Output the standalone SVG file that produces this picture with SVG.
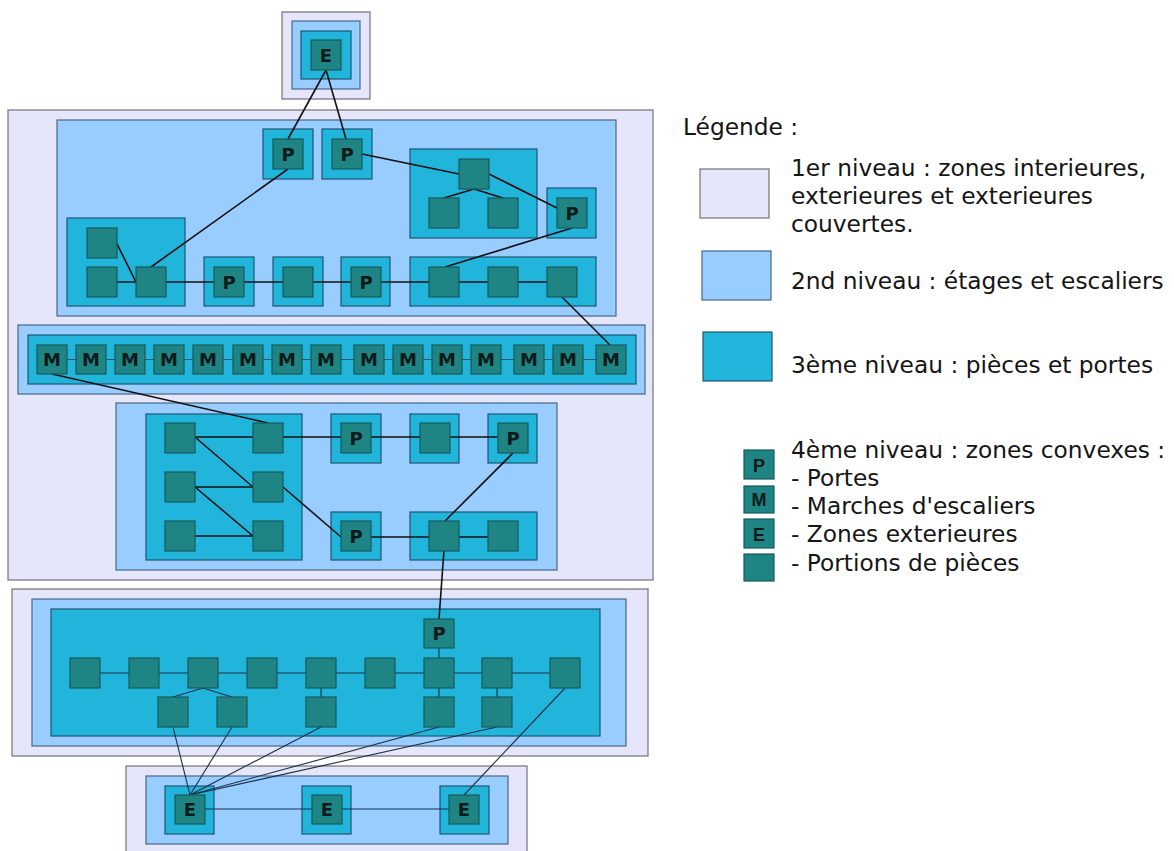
<svg xmlns="http://www.w3.org/2000/svg" width="1174" height="851" viewBox="0 0 1174 851">
<style>
.l1{fill:#e6e6fa;stroke:#7c7c84;stroke-width:1.3}
.l2{fill:#99ccff;stroke:#46688a;stroke-width:1.2}
.l3{fill:#22b5dc;stroke:#1e5670;stroke-width:1.2}
.n{fill:#1f8484;stroke:#145a5c;stroke-width:1.2}
.lab{font-family:"DejaVu Sans",sans-serif;font-weight:bold;font-size:18px;fill:#0c1a1a;text-anchor:middle}
.lgl{font-family:"Liberation Sans",Arial,sans-serif;font-weight:bold;font-size:18px;fill:#0c1a1a;text-anchor:middle}
.lg{font-family:"DejaVu Sans",sans-serif;font-size:23.3px;fill:#151515}
.c{stroke:#111;stroke-width:1.6;fill:none}
.ct{stroke:#1b2f45;stroke-width:1.1;fill:none}
.cs{stroke:#1e5670;stroke-width:1;fill:none}
</style>
<rect width="1174" height="851" fill="#fff"/>
<g id="containers">
<g id="ext-top"><rect class="l1" x="282" y="12" width="88" height="87"/><rect class="l2" x="292" y="21" width="68" height="68"/><rect class="l3" x="301" y="31" width="50" height="48"/></g>
<g id="building-main"><rect class="l1" x="8" y="110" width="645" height="470"/></g>
<g id="floor-upper"><rect class="l2" x="57" y="120" width="559" height="196"/>
<rect class="l3" x="263" y="129" width="50" height="50"/>
<rect class="l3" x="322" y="129" width="50" height="50"/>
<rect class="l3" x="410" y="149" width="127" height="89"/>
<rect class="l3" x="547" y="188" width="49" height="50"/>
<rect class="l3" x="67" y="218" width="118" height="88"/>
<rect class="l3" x="204" y="257" width="50" height="49"/>
<rect class="l3" x="273" y="257" width="50" height="49"/>
<rect class="l3" x="341" y="257" width="49" height="49"/>
<rect class="l3" x="410" y="257" width="186" height="49"/></g>
<g id="stairs"><rect class="l2" x="18" y="325" width="627" height="69"/><rect class="l3" x="28" y="335" width="608" height="49"/></g>
<g id="floor-middle"><rect class="l2" x="116" y="403" width="441" height="167"/>
<rect class="l3" x="146" y="414" width="156" height="146"/>
<rect class="l3" x="331" y="414" width="50" height="49"/>
<rect class="l3" x="410" y="414" width="49" height="49"/>
<rect class="l3" x="488" y="414" width="49" height="49"/>
<rect class="l3" x="331" y="512" width="50" height="48"/>
<rect class="l3" x="410" y="512" width="127" height="48"/></g>
<g id="building-ground"><rect class="l1" x="12" y="589" width="636" height="167"/><rect class="l2" x="32" y="599" width="594" height="147"/><rect class="l3" x="51" y="609" width="549" height="127"/></g>
<g id="ext-bottom"><rect class="l1" x="126" y="766" width="401" height="90"/><rect class="l2" x="146" y="776" width="362" height="68"/>
<rect class="l3" x="165" y="786" width="49" height="48"/>
<rect class="l3" x="302" y="786" width="49" height="48"/>
<rect class="l3" x="440" y="786" width="49" height="48"/></g>
</g>
<g id="connectors">
<line class="c" x1="326" y1="70" x2="288" y2="139"/>
<line class="c" x1="326" y1="70" x2="346" y2="139"/>
<line class="c" x1="288" y1="169" x2="151" y2="267"/>
<line class="c" x1="362" y1="154" x2="459" y2="174"/>
<line class="c" x1="489" y1="174" x2="559" y2="209"/>
<line class="c" x1="474" y1="189" x2="444" y2="198"/>
<line class="c" x1="474" y1="189" x2="503" y2="198"/>
<line class="c" x1="572" y1="228" x2="445" y2="267"/>
<line class="c" x1="116" y1="242" x2="136" y2="282"/>
<line class="c" x1="117" y1="282" x2="547" y2="282"/>
<line class="c" x1="562" y1="297" x2="610" y2="345"/>
<line class="cs" x1="52" y1="359.5" x2="611" y2="359.5"/>
<line class="c" x1="52" y1="374" x2="268" y2="423"/>
<line class="c" x1="195" y1="437" x2="498" y2="437"/>
<line class="c" x1="195" y1="437" x2="253" y2="487"/>
<line class="c" x1="195" y1="487" x2="253" y2="487"/>
<line class="c" x1="195" y1="487" x2="253" y2="536"/>
<line class="c" x1="195" y1="536" x2="253" y2="536"/>
<line class="c" x1="283" y1="487" x2="341" y2="537"/>
<line class="c" x1="371" y1="537" x2="488" y2="537"/>
<line class="c" x1="513" y1="453" x2="445" y2="521"/>
<line class="c" x1="444" y1="550" x2="439" y2="619"/>
<line class="ct" x1="439" y1="648" x2="439" y2="658"/>
<line class="ct" x1="100" y1="673" x2="550" y2="673"/>
<line class="ct" x1="203" y1="688" x2="173" y2="697"/>
<line class="ct" x1="203" y1="688" x2="232" y2="697"/>
<line class="ct" x1="321" y1="688" x2="321" y2="697"/>
<line class="ct" x1="439" y1="688" x2="439" y2="697"/>
<line class="ct" x1="497" y1="688" x2="497" y2="697"/>
<line class="ct" x1="173" y1="727" x2="190" y2="795"/>
<line class="ct" x1="232" y1="727" x2="190" y2="795"/>
<line class="ct" x1="321" y1="727" x2="190" y2="795"/>
<line class="ct" x1="439" y1="727" x2="190" y2="795"/>
<line class="ct" x1="497" y1="727" x2="190" y2="795"/>
<line class="ct" x1="565" y1="688" x2="464" y2="795"/>
<line class="ct" x1="205" y1="809" x2="449" y2="809"/>
</g>
<g id="n-e-top"><rect class="n" x="311" y="40" width="30" height="30"/><text class="lab" x="326" y="61.5">E</text></g>
<g id="n-up-p1"><rect class="n" x="273" y="139" width="30" height="30"/><text class="lab" x="288" y="160.5">P</text></g>
<g id="n-up-p2"><rect class="n" x="332" y="139" width="30" height="30"/><text class="lab" x="347" y="160.5">P</text></g>
<g id="n-up-r1a"><rect class="n" x="459" y="159" width="30" height="30"/></g>
<g id="n-up-r1b"><rect class="n" x="429" y="198" width="30" height="30"/></g>
<g id="n-up-r1c"><rect class="n" x="488" y="198" width="30" height="30"/></g>
<g id="n-up-p3"><rect class="n" x="557" y="198" width="30" height="30"/><text class="lab" x="572" y="219.5">P</text></g>
<g id="n-up-r2a"><rect class="n" x="87" y="228" width="30" height="30"/></g>
<g id="n-up-r2b"><rect class="n" x="87" y="267" width="30" height="30"/></g>
<g id="n-up-r2c"><rect class="n" x="136" y="267" width="30" height="30"/></g>
<g id="n-up-p4"><rect class="n" x="214" y="267" width="30" height="30"/><text class="lab" x="229" y="288.5">P</text></g>
<g id="n-up-c1"><rect class="n" x="283" y="267" width="30" height="30"/></g>
<g id="n-up-p5"><rect class="n" x="351" y="267" width="30" height="30"/><text class="lab" x="366" y="288.5">P</text></g>
<g id="n-up-r3a"><rect class="n" x="429" y="267" width="30" height="30"/></g>
<g id="n-up-r3b"><rect class="n" x="488" y="267" width="30" height="30"/></g>
<g id="n-up-r3c"><rect class="n" x="547" y="267" width="30" height="30"/></g>
<g id="n-m1"><rect class="n" x="37" y="345" width="30" height="29"/><text class="lab" x="52" y="366">M</text></g>
<g id="n-m2"><rect class="n" x="76" y="345" width="30" height="29"/><text class="lab" x="91" y="366">M</text></g>
<g id="n-m3"><rect class="n" x="115" y="345" width="30" height="29"/><text class="lab" x="130" y="366">M</text></g>
<g id="n-m4"><rect class="n" x="154" y="345" width="30" height="29"/><text class="lab" x="169" y="366">M</text></g>
<g id="n-m5"><rect class="n" x="193" y="345" width="30" height="29"/><text class="lab" x="208" y="366">M</text></g>
<g id="n-m6"><rect class="n" x="233" y="345" width="30" height="29"/><text class="lab" x="248" y="366">M</text></g>
<g id="n-m7"><rect class="n" x="272" y="345" width="30" height="29"/><text class="lab" x="287" y="366">M</text></g>
<g id="n-m8"><rect class="n" x="311" y="345" width="30" height="29"/><text class="lab" x="326" y="366">M</text></g>
<g id="n-m9"><rect class="n" x="354" y="345" width="30" height="29"/><text class="lab" x="369" y="366">M</text></g>
<g id="n-m10"><rect class="n" x="393" y="345" width="30" height="29"/><text class="lab" x="408" y="366">M</text></g>
<g id="n-m11"><rect class="n" x="432" y="345" width="30" height="29"/><text class="lab" x="447" y="366">M</text></g>
<g id="n-m12"><rect class="n" x="471" y="345" width="30" height="29"/><text class="lab" x="486" y="366">M</text></g>
<g id="n-m13"><rect class="n" x="514" y="345" width="30" height="29"/><text class="lab" x="529" y="366">M</text></g>
<g id="n-m14"><rect class="n" x="553" y="345" width="30" height="29"/><text class="lab" x="568" y="366">M</text></g>
<g id="n-m15"><rect class="n" x="596" y="345" width="30" height="29"/><text class="lab" x="611" y="366">M</text></g>
<g id="n-mid-a1"><rect class="n" x="165" y="423" width="30" height="30"/></g>
<g id="n-mid-a2"><rect class="n" x="253" y="423" width="30" height="30"/></g>
<g id="n-mid-b1"><rect class="n" x="165" y="472" width="30" height="30"/></g>
<g id="n-mid-b2"><rect class="n" x="253" y="472" width="30" height="30"/></g>
<g id="n-mid-c1"><rect class="n" x="165" y="521" width="30" height="30"/></g>
<g id="n-mid-c2"><rect class="n" x="253" y="521" width="30" height="30"/></g>
<g id="n-mid-p6"><rect class="n" x="341" y="423" width="30" height="30"/><text class="lab" x="356" y="444.5">P</text></g>
<g id="n-mid-c"><rect class="n" x="420" y="423" width="30" height="30"/></g>
<g id="n-mid-p7"><rect class="n" x="498" y="423" width="30" height="30"/><text class="lab" x="513" y="444.5">P</text></g>
<g id="n-mid-p8"><rect class="n" x="341" y="521" width="30" height="30"/><text class="lab" x="356" y="542.5">P</text></g>
<g id="n-mid-r5a"><rect class="n" x="429" y="521" width="30" height="30"/></g>
<g id="n-mid-r5b"><rect class="n" x="488" y="521" width="30" height="30"/></g>
<g id="n-gr-p"><rect class="n" x="424" y="619" width="30" height="29"/><text class="lab" x="439" y="640">P</text></g>
<g id="n-gr-1"><rect class="n" x="70" y="658" width="30" height="30"/></g>
<g id="n-gr-2"><rect class="n" x="129" y="658" width="30" height="30"/></g>
<g id="n-gr-3"><rect class="n" x="188" y="658" width="30" height="30"/></g>
<g id="n-gr-4"><rect class="n" x="247" y="658" width="30" height="30"/></g>
<g id="n-gr-5"><rect class="n" x="306" y="658" width="30" height="30"/></g>
<g id="n-gr-6"><rect class="n" x="365" y="658" width="30" height="30"/></g>
<g id="n-gr-7"><rect class="n" x="424" y="658" width="30" height="30"/></g>
<g id="n-gr-8"><rect class="n" x="482" y="658" width="30" height="30"/></g>
<g id="n-gr-9"><rect class="n" x="550" y="658" width="30" height="30"/></g>
<g id="n-gr-10"><rect class="n" x="158" y="697" width="30" height="30"/></g>
<g id="n-gr-11"><rect class="n" x="217" y="697" width="30" height="30"/></g>
<g id="n-gr-12"><rect class="n" x="306" y="697" width="30" height="30"/></g>
<g id="n-gr-13"><rect class="n" x="424" y="697" width="30" height="30"/></g>
<g id="n-gr-14"><rect class="n" x="482" y="697" width="30" height="30"/></g>
<g id="n-e1"><rect class="n" x="175" y="795" width="30" height="29"/><text class="lab" x="190" y="816">E</text></g>
<g id="n-e2"><rect class="n" x="312" y="795" width="30" height="29"/><text class="lab" x="327" y="816">E</text></g>
<g id="n-e3"><rect class="n" x="449" y="795" width="30" height="29"/><text class="lab" x="464" y="816">E</text></g>
<g id="legend">
<text class="lg" x="683" y="135">Légende :</text>
<rect class="l1" x="700" y="169" width="69" height="49"/>
<text class="lg" x="791" y="176">1er niveau : zones interieures,</text>
<text class="lg" x="791" y="204">exterieures et exterieures</text>
<text class="lg" x="791" y="232">couvertes.</text>
<rect class="l2" x="702" y="251" width="69" height="49"/>
<text class="lg" x="791" y="289">2nd niveau : étages et escaliers</text>
<rect class="l3" x="703" y="332" width="69" height="49"/>
<text class="lg" x="791" y="373">3ème niveau : pièces et portes</text>
<text class="lg" x="791" y="458">4ème niveau : zones convexes :</text>
<text class="lg" x="791" y="486">- Portes</text>
<text class="lg" x="791" y="514">- Marches d'escaliers</text>
<text class="lg" x="791" y="542">- Zones exterieures</text>
<text class="lg" x="791" y="571">- Portions de pièces</text>
<rect class="n" x="744" y="450" width="30" height="29"/><text class="lgl" x="759" y="471.5">P</text>
<rect class="n" x="744" y="486" width="30" height="27"/><text class="lgl" x="759" y="506">M</text>
<rect class="n" x="744" y="519" width="30" height="29"/><text class="lgl" x="759" y="540.5">E</text>
<rect class="n" x="744" y="554" width="30" height="27"/>
</g>
</svg>
